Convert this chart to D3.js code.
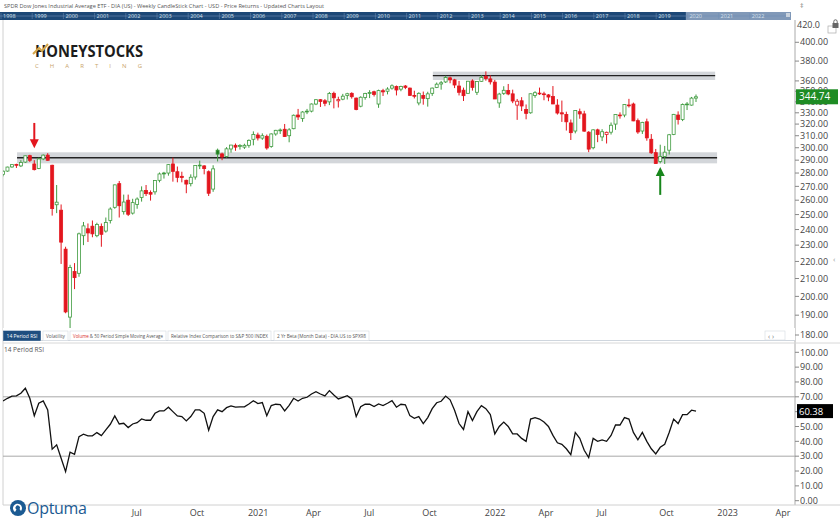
<!DOCTYPE html>
<html>
<head>
<meta charset="utf-8">
<script src="https://cdn.jsdelivr.net/npm/d3@7"></script>
<style>
body{margin:0;background:#fff;}
text{font-family:"Open Sans",sans-serif;}
</style>
</head>
<body>
<svg id="chart"></svg>
<script>
// weekly DIA bars, first and last friday
var firstWeek = "2019-12-13";
var lastWeek = "2022-12-02";

var opens = [279.0,281.5,284.7,286.6,285.5,288.5,293.6,287.0,283.5,291.0,294.0,286.0,256.8,253.0,227.5,189.0,214.0,213.0,236.0,240.5,
242.2,236.0,242.0,239.0,246.0,255.0,272.0,252.0,260.0,251.0,257.0,262.0,267.0,265.5,266.0,274.5,280.0,280.0,287.0,281.0,
277.5,274.5,272.0,277.0,286.0,285.5,281.0,268.0,298.0,295.0,293.0,299.0,302.0,301.0,300.5,302.0,307.0,310.6,308.0,309.5,
301.0,311.5,314.5,315.5,310.0,316.0,328.0,325.0,331.0,331.5,338.0,342.0,341.0,340.0,348.0,341.0,342.5,346.0,348.0,343.5,
336.0,344.0,348.0,349.5,338.0,350.5,350.0,353.0,354.5,352.0,355.0,353.0,346.0,339.0,346.0,343.0,348.0,353.5,357.0,359.0,
363.0,361.0,355.0,351.0,348.0,360.0,349.0,359.6,364.5,362.0,358.8,339.0,348.0,350.8,347.5,337.0,341.0,333.0,330.0,346.0,
348.0,347.5,346.5,345.0,337.0,330.0,328.5,321.0,314.0,331.0,329.0,313.0,300.0,315.0,309.0,311.0,313.0,320.0,327.5,328.0,
337.0,338.0,323.0,314.0,322.0,307.0,296.0,289.0,293.0,298.0,311.0,328.0,324.0,338.0,337.0,343.5];

var highs = [282.0,284.9,286.5,287.2,290.0,293.6,294.3,290.0,292.0,294.6,295.6,286.4,271.0,257.0,229.0,218.0,219.0,238.0,245.0,244.0,
246.0,244.5,244.0,248.0,255.0,271.3,274.0,264.0,264.0,261.0,262.0,270.0,271.0,267.0,274.6,280.4,280.9,286.8,292.0,285.0,
281.0,275.0,279.0,286.0,289.6,286.0,282.0,286.0,299.3,296.0,300.5,302.3,303.5,303.0,303.3,306.9,313.7,312.6,312.0,311.0,
312.0,315.0,316.2,320.1,316.5,328.5,333.5,331.5,333.5,338.5,342.5,342.6,342.6,349.3,349.6,344.8,347.5,348.5,349.0,344.0,
345.2,348.5,351.0,350.5,351.5,352.3,353.8,356.6,355.5,355.3,356.0,353.5,350.5,349.0,349.7,349.5,353.5,358.4,360.0,365.1,
364.3,362.0,360.0,353.5,360.0,361.6,359.8,365.6,369.5,365.5,361.0,348.5,354.8,357.0,351.5,342.7,344.4,337.6,347.8,350.0,
353.5,349.5,347.3,355.0,342.5,341.2,331.0,324.0,332.2,333.8,331.8,313.9,315.5,316.0,315.6,313.5,321.4,328.7,330.4,338.0,
342.8,339.3,324.9,322.0,324.8,311.4,299.0,302.5,301.5,311.5,329.0,331.3,338.5,339.8,344.6,346.9];

var lows = [277.5,281.0,284.0,283.9,284.6,287.8,288.6,282.0,283.0,290.0,289.5,249.3,251.0,218.5,191.0,182.0,204.0,211.0,230.0,232.0,
235.0,235.0,229.0,238.0,244.0,254.0,248.0,250.0,249.0,250.0,254.0,259.0,263.0,259.7,264.0,273.0,275.8,278.0,273.5,273.0,
273.0,265.0,270.0,275.0,283.0,279.0,263.0,266.0,289.0,290.0,292.0,296.0,297.5,298.5,299.0,300.0,302.0,306.0,306.5,298.4,
300.0,310.0,311.5,309.0,304.5,315.5,323.6,322.0,328.8,330.4,337.0,335.3,336.0,337.0,334.0,334.8,341.5,342.2,343.0,332.3,
335.0,342.0,343.5,345.0,334.5,345.5,347.0,351.5,346.0,350.0,352.0,345.6,343.2,336.8,337.4,335.6,345.6,353.0,351.5,358.0,
357.7,353.0,346.0,340.8,347.8,350.6,346.4,359.0,360.2,356.5,342.6,334.5,346.5,346.2,338.8,323.7,331.6,324.2,329.2,343.8,
346.5,341.5,340.6,337.8,328.4,321.9,314.4,306.4,312.0,324.7,313.4,296.4,298.7,304.6,305.5,303.5,311.0,315.0,324.8,326.0,
334.8,322.5,311.6,311.5,305.8,295.0,287.2,287.5,287.0,294.5,310.5,319.6,322.6,332.5,336.5,339.9];

var closes = [281.4,284.6,286.5,286.3,288.2,293.5,289.9,282.6,291.0,294.0,289.9,254.1,258.6,231.9,191.7,216.4,210.5,237.2,242.4,237.8,
237.2,243.3,236.9,244.7,253.8,271.1,256.1,258.7,250.2,258.3,260.8,266.7,264.7,264.3,274.3,279.3,279.3,286.5,281.3,276.7,
276.6,271.7,276.8,285.9,286.1,283.4,265.0,283.2,294.8,292.6,299.1,302.2,300.5,301.8,302.0,306.1,311.0,308.1,310.0,299.8,
311.5,314.6,314.9,309.3,315.0,327.8,326.3,330.7,331.5,338.0,342.0,340.4,338.7,347.8,343.8,342.1,345.3,347.6,344.8,332.9,
344.3,347.9,348.7,346.9,350.6,349.4,352.1,355.2,351.2,354.6,353.7,346.1,345.8,348.0,343.3,347.5,353.0,356.8,358.2,363.3,
361.0,356.0,349.0,345.8,359.7,353.7,359.5,363.4,362.3,359.1,342.7,347.3,350.9,347.4,340.8,340.6,336.2,329.5,347.6,348.6,
348.2,347.2,344.5,338.1,329.8,329.0,322.0,312.6,332.1,329.0,313.9,298.9,315.0,311.0,313.4,312.9,319.0,328.5,328.0,337.6,
337.1,322.8,313.2,321.5,308.2,295.9,287.3,293.0,296.4,310.8,328.6,324.0,337.5,337.5,343.5,344.74];

// 14 period RSI
var rsiValues = [67.2,69.0,70.4,70.6,72.4,75.8,69.0,57.3,65.7,67.2,61.2,34.7,37.6,28.6,19.6,32.7,31.3,43.2,44.8,43.7,
43.7,45.9,43.9,47.7,51.5,57.1,51.7,52.2,49.3,51.7,52.6,55.1,54.2,54.2,58.9,60.5,60.5,63.0,60.0,57.1,
56.7,53.8,56.7,61.2,61.2,58.9,47.5,56.7,61.2,60.0,62.7,63.9,63.0,63.2,63.2,65.2,67.4,65.4,66.1,57.3,
64.1,65.0,64.8,60.5,64.3,69.0,67.2,69.0,69.7,71.9,73.5,71.9,70.6,74.2,71.2,68.6,69.7,70.8,68.6,56.7,
63.4,65.0,65.0,63.4,65.2,64.1,65.7,67.4,63.0,65.0,64.6,57.3,55.5,56.7,52.0,56.0,62.0,66.0,67.0,70.5,
68.0,61.0,52.0,48.0,60.0,54.0,60.0,64.0,62.0,58.0,45.0,50.0,53.0,50.0,45.0,45.0,42.0,40.0,55.0,56.0,
55.0,53.0,50.0,44.0,39.0,38.0,35.0,31.0,46.0,42.0,34.0,29.0,42.0,40.0,41.0,40.0,44.0,51.0,51.0,56.0,
55.0,46.0,41.0,46.0,40.0,35.0,31.5,36.0,38.0,46.0,55.0,52.0,58.0,58.0,61.0,60.38];

var priceTicks = [180,190,200,210,220,230,240,250,260,270,280,290,300,310,320,330,340,350,360,380,400];
var rsiTicks = [0,10,20,30,40,50,60,70,80,90,100];
var rsiLevels = [70,30];
var dateLabels = [["2020-07-01","Jul"],["2020-10-01","Oct"],["2021-01-01","2021"],["2021-04-01","Apr"],
  ["2021-07-01","Jul"],["2021-10-01","Oct"],["2022-01-01","2022"],["2022-04-01","Apr"],
  ["2022-07-01","Jul"],["2022-10-01","Oct"],["2023-01-01","2023"],["2023-04-01","Apr"]];
var timelineYears = [1998,1999,2000,2001,2002,2003,2004,2005,2006,2007,2008,2009,2010,2011,2012,2013,2014,2015,2016,2017,2018,2019,2020,2021,2022];
var tabNames = ["14 Period RSI","Volatility","Volume & 50 Period Simple Moving Average","Relative Index Comparison to S&P 500 INDEX","2 Yr Beta (Month Data) - DIA.US to SPX98"];
// support / resistance zones: [start, end, low, high, line]
var zones = [["2020-01-04","2023-01-04",287.5,296.3,291.9],["2021-10-16","2023-01-01",360.9,369.2,365.2]];
// arrows: [date, tail price, tip price]
var redArrow = ["2020-01-31",321,299.6];
var greenArrow = ["2022-10-07",263.8,284.7];

var green = "#3f9b3f", greenFill = "#1f7a1f", red = "#e3161e";
var parseDate = d3.timeParse("%Y-%m-%d");
var weeks = d3.timeFriday.range(parseDate(firstWeek), d3.timeDay.offset(parseDate(lastWeek),1));
var bars = weeks.map(function(d,i){
    return {date:d, open:opens[i], high:highs[i], low:lows[i], close:closes[i], rsi:rsiValues[i],
            prev: i>0 ? closes[i-1] : opens[i]};
});

var svg = d3.select("#chart").attr("width",840).attr("height",522);
svg.append("rect").attr("width",840).attr("height",522).attr("fill","#fff");

var x = d3.scaleTime().domain([weeks[0],weeks[weeks.length-1]]).range([3,696]);
var yPrice = d3.scaleLog().domain([180,420]).range([335,24.4]);
var yRsi = d3.scaleLinear().domain([0,100]).range([500.7,352.3]);

var defs = svg.append("defs");
defs.append("clipPath").attr("id","clipPrice").append("rect")
    .attr("x",3).attr("y",20).attr("width",792).attr("height",323);
defs.append("clipPath").attr("id","clipRsi").append("rect")
    .attr("x",3).attr("y",343).attr("width",792).attr("height",162);

// title
svg.append("text").attr("x",4).attr("y",7.5).attr("font-size",6).attr("fill","#555")
    .attr("textLength",320).attr("lengthAdjust","spacingAndGlyphs")
    .text("SPDR Dow Jones Industrial Average ETF - DIA (US) - Weekly CandleStick Chart - USD - Price Returns - Updated Charts Layout");

// timeline strip
var tl = d3.scaleLinear().domain([1998,2023]).range([1,781]);
svg.append("rect").attr("x",0).attr("y",12).attr("width",791).attr("height",8).attr("fill","#1d4877");
svg.append("rect").attr("x",tl(2019.95)).attr("y",12).attr("width",791-tl(2019.95)).attr("height",8).attr("fill","#8199b8");
svg.append("line").attr("x1",0).attr("x2",791).attr("y1",16).attr("y2",16).attr("stroke","#6f8fb5").attr("stroke-width",0.6);
var tly = svg.append("g").selectAll("g").data(timelineYears).enter().append("g");
tly.append("line").attr("x1",function(d){return tl(d);}).attr("x2",function(d){return tl(d);})
    .attr("y1",13).attr("y2",19).attr("stroke","#6f8fb5").attr("stroke-width",0.5);
tly.append("text").attr("x",function(d){return tl(d)+2;}).attr("y",18.3).attr("font-size",5.5)
    .attr("fill","#d6e0ec").text(function(d){return d;});
svg.append("rect").attr("x",786).attr("y",13).attr("width",4).attr("height",4).attr("fill","#c9d2dd");
svg.append("text").attr("x",800).attr("y",8).attr("font-size",7).attr("fill","#777").text("\u2021");

// panel frames
svg.append("line").attr("x1",3).attr("x2",3).attr("y1",20).attr("y2",505).attr("stroke","#d0d0d0");
svg.append("line").attr("x1",795).attr("x2",795).attr("y1",20).attr("y2",505).attr("stroke","#aaa");
svg.append("line").attr("x1",3).attr("x2",840).attr("y1",343).attr("y2",343).attr("stroke","#d8d8d8");
svg.append("line").attr("x1",3).attr("x2",840).attr("y1",505).attr("y2",505).attr("stroke","#d0d0d0");
svg.append("rect").attr("x",828).attr("y",26).attr("width",8).attr("height",7).attr("fill","none").attr("stroke","#aaa").attr("stroke-width",0.7);

// logo
var logo = svg.append("g");
logo.append("text").attr("x",35).attr("y",57).attr("font-family","Lato, sans-serif").attr("font-weight",700)
    .attr("font-size",16).attr("fill","#1c1c1c").attr("textLength",108).attr("lengthAdjust","spacingAndGlyphs")
    .text("HONEYSTOCKS");
logo.append("path").attr("d","M33,54 L39,48 L42,51 L48,44").attr("fill","none").attr("stroke","#d4a64a").attr("stroke-width",2);
logo.append("text").attr("x",35).attr("y",67.5).attr("font-size",6).attr("fill","#c9a46b")
    .attr("textLength",107).attr("lengthAdjust","spacing").text("CHARTING");

// price panel
var pricePanel = svg.append("g").attr("clip-path","url(#clipPrice)");
zones.forEach(function(z){
    pricePanel.append("rect").attr("x",x(parseDate(z[0]))).attr("width",x(parseDate(z[1]))-x(parseDate(z[0])))
        .attr("y",yPrice(z[3])).attr("height",yPrice(z[2])-yPrice(z[3])).attr("fill","#d3d6da");
    pricePanel.append("line").attr("x1",x(parseDate(z[0]))).attr("x2",x(parseDate(z[1])))
        .attr("y1",yPrice(z[4])).attr("y2",yPrice(z[4])).attr("stroke","#222").attr("stroke-width",1.4);
});

var candles = pricePanel.selectAll("g.candle").data(bars).enter().append("g").attr("class","candle");
candles.append("line")
    .attr("x1",function(d){return x(d.date);}).attr("x2",function(d){return x(d.date);})
    .attr("y1",function(d){return yPrice(d.high);}).attr("y2",function(d){return yPrice(d.low);})
    .attr("stroke",function(d){return d.close>=d.prev ? green : red;}).attr("stroke-width",1);
candles.append("rect")
    .attr("x",function(d){return x(d.date)-1.5;}).attr("width",3)
    .attr("y",function(d){return yPrice(Math.max(d.open,d.close));})
    .attr("height",function(d){return Math.max(0.8,yPrice(Math.min(d.open,d.close))-yPrice(Math.max(d.open,d.close)));})
    .attr("fill",function(d){
        if(d.close>=d.open) return "#fff";
        return d.close>=d.prev ? greenFill : red;
    })
    .attr("stroke",function(d){return d.close>=d.prev ? green : red;}).attr("stroke-width",0.8);

var drawArrow = function(a,color)
{
    var ax = x(parseDate(a[0])), y0 = yPrice(a[1]), y1 = yPrice(a[2]);
    var dir = y1>y0 ? 1 : -1;
    pricePanel.append("line").attr("x1",ax).attr("x2",ax).attr("y1",y0).attr("y2",y1-dir*8)
        .attr("stroke",color).attr("stroke-width",2);
    pricePanel.append("path").attr("d","M"+(ax-4.5)+","+(y1-dir*9)+" L"+(ax+4.5)+","+(y1-dir*9)+" L"+ax+","+y1+" Z")
        .attr("fill",color);
}
drawArrow(redArrow,red);
drawArrow(greenArrow,"#17861b");

// price axis
var pAxis = svg.append("g");
pAxis.selectAll("line").data(priceTicks).enter().append("line")
    .attr("x1",795).attr("x2",799).attr("y1",function(d){return yPrice(d);}).attr("y2",function(d){return yPrice(d);})
    .attr("stroke","#888");
pAxis.selectAll("text").data(priceTicks).enter().append("text")
    .attr("x",800).attr("y",function(d){return yPrice(d)+3.2;}).attr("font-size",9).attr("fill","#444")
    .text(function(d){return d3.format(".2f")(d);});
svg.append("text").attr("x",797).attr("y",27.5).attr("font-size",9).attr("fill","#444").text("420.0");
svg.append("rect").attr("x",832.5).attr("y",23).attr("width",6).attr("height",5).attr("fill","#666");
svg.append("path").attr("d","M833.8,23 v-1.5 a1.7,1.7 0 0 1 3.4,0 v1.5").attr("fill","none").attr("stroke","#666").attr("stroke-width",1);
svg.append("text").attr("x",833).attr("y",262).attr("font-size",8).attr("fill","#999").text("\u2039");

// last price tag
var lastBar = bars[bars.length-1];
svg.append("rect").attr("x",796).attr("y",yPrice(lastBar.close)-7.5).attr("width",42).attr("height",15).attr("fill","#1e8c24");
svg.append("text").attr("x",799).attr("y",yPrice(lastBar.close)+3.5).attr("font-size",10).attr("fill","#fff")
    .text(d3.format(".2f")(lastBar.close));

// tab bar
var tabs = svg.append("g");
tabs.append("rect").attr("x",3).attr("y",328).attr("width",792).attr("height",13).attr("fill","#fff");
tabs.append("line").attr("x1",3).attr("x2",795).attr("y1",340.5).attr("y2",340.5).attr("stroke","#cfd6de");
var tabX = [3.5,43,70,168,274], tabW = [37,25,96,103,95];
tabNames.forEach(function(name,i){
    tabs.append("rect").attr("x",tabX[i]).attr("y",331).attr("width",tabW[i]).attr("height",9.5)
        .attr("fill",i==0 ? "#1f4f80" : "#fff").attr("stroke",i==0 ? "#1f4f80" : "#d4d9df").attr("stroke-width",0.6);
    var t = tabs.append("text").attr("x",tabX[i]+3).attr("y",338).attr("font-size",5)
        .attr("fill",i==0 ? "#fff" : "#555").attr("textLength",tabW[i]-6).attr("lengthAdjust","spacingAndGlyphs");
    if(i==2)
    {
        t.append("tspan").attr("fill","#d92b2b").text("Volume");
        t.append("tspan").text(name.replace("Volume",""));
    }
    else t.text(name);
});
tabs.append("rect").attr("x",765).attr("y",331).attr("width",20).attr("height",9).attr("fill","#fff").attr("stroke","#d4d9df").attr("stroke-width",0.6);
tabs.append("text").attr("x",768).attr("y",338.5).attr("font-size",7).attr("fill","#777").text("\u2039  \u203A");

// RSI panel
svg.append("text").attr("x",4).attr("y",352).attr("font-size",6.5).attr("fill","#555").text("14 Period RSI");
var rsiPanel = svg.append("g").attr("clip-path","url(#clipRsi)");
rsiPanel.selectAll("line.level").data(rsiLevels).enter().append("line").attr("class","level")
    .attr("x1",3).attr("x2",795).attr("y1",function(d){return yRsi(d);}).attr("y2",function(d){return yRsi(d);})
    .attr("stroke","#a8a8a8").attr("stroke-width",1);
rsiPanel.append("path").datum(bars)
    .attr("d",d3.line().x(function(d){return x(d.date);}).y(function(d){return yRsi(d.rsi);}))
    .attr("fill","none").attr("stroke","#111").attr("stroke-width",1.3);

var rAxis = svg.append("g");
rAxis.selectAll("line").data(rsiTicks).enter().append("line")
    .attr("x1",795).attr("x2",799).attr("y1",function(d){return yRsi(d);}).attr("y2",function(d){return yRsi(d);})
    .attr("stroke","#888");
rAxis.selectAll("text").data(rsiTicks).enter().append("text")
    .attr("x",800).attr("y",function(d){return yRsi(d)+3.2;}).attr("font-size",9).attr("fill","#444")
    .text(function(d){return d3.format(".2f")(d);});
svg.append("rect").attr("x",797).attr("y",yRsi(lastBar.rsi)-7).attr("width",36).attr("height",14).attr("fill","#000");
svg.append("text").attr("x",799).attr("y",yRsi(lastBar.rsi)+3.5).attr("font-size",9.5).attr("fill","#fff")
    .text(d3.format(".2f")(lastBar.rsi));

// date axis
var dAxis = svg.append("g");
dateLabels.forEach(function(l){
    var dx = x(d3.timeFriday.ceil(parseDate(l[0])));
    dAxis.append("text").attr("x",dx-1).attr("y",516).attr("font-size",9).attr("fill","#444").text(l[1]);
});

// optuma logo
var op = svg.append("g");
op.append("circle").attr("cx",18).attr("cy",508).attr("r",8).attr("fill","#1b5a92");
op.append("path").attr("d","M15,512 a4.5,4.5 0 1 1 6,-1 l-1.5,-2 a2.2,2.2 0 1 0 -3,0.5 z").attr("fill","#fff");
op.append("text").attr("x",27).attr("y",514).attr("font-size",16).attr("fill","#1b5a92").attr("letter-spacing",-0.3).text("Optuma");
</script>
</body>
</html>
